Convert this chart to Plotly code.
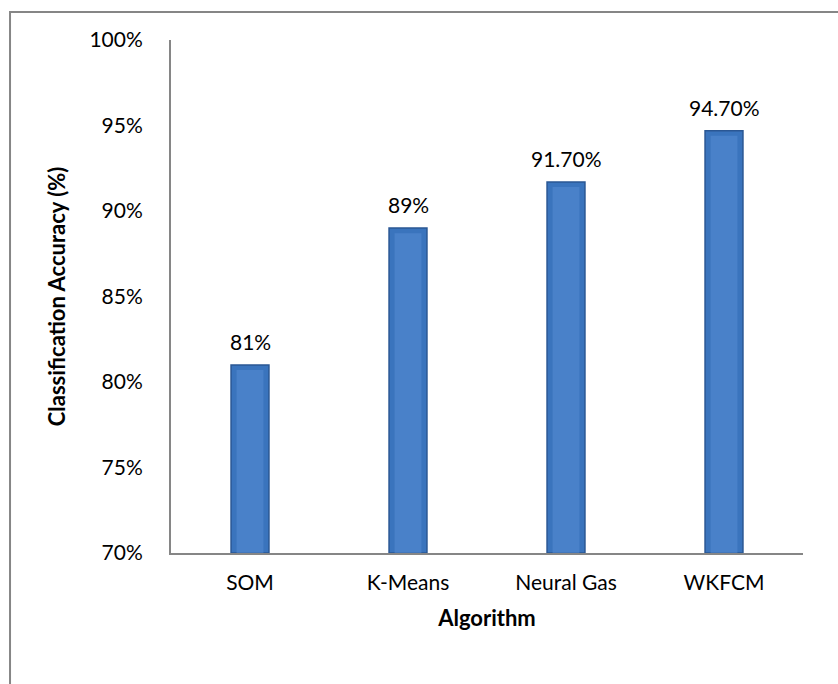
import plotly.graph_objects as go

algorithms = ["SOM", "K-Means", "Neural Gas", "WKFCM"]
accuracy = [81.0, 89.0, 91.7, 94.7]
value_labels = ["81%", "89%", "91.70%", "94.70%"]
y_ticks = [70, 75, 80, 85, 90, 95, 100]
y_tick_text = ["70%", "75%", "80%", "85%", "90%", "95%", "100%"]

FONT = "Lato, 'Open Sans', sans-serif"

fig = go.Figure()

# main bars
fig.add_trace(go.Bar(
    x=algorithms,
    y=[v - 70 for v in accuracy],
    base=70,
    width=0.24,
    marker=dict(color="#3A74BD", line=dict(color="#2A5794", width=1.5)),
    hoverinfo="skip",
))

# lighter centre band for the bevelled look
fig.add_trace(go.Bar(
    x=algorithms,
    y=[v - 70 - 0.3 for v in accuracy],
    base=70,
    width=0.17,
    marker=dict(color="rgba(85,140,212,0.55)", line=dict(width=0)),
    hoverinfo="skip",
))

# value labels above each bar
annotations = [
    dict(x=a, y=v, text=t, xref="x", yref="y", showarrow=False,
         yanchor="bottom", yshift=9,
         font=dict(family=FONT, size=21, color="#000000"))
    for a, v, t in zip(algorithms, accuracy, value_labels)
]

fig.update_layout(
    width=838,
    height=684,
    margin=dict(l=171, r=35, t=40, b=131),
    paper_bgcolor="white",
    plot_bgcolor="white",
    showlegend=False,
    barmode="overlay",
    font=dict(family=FONT, size=21, color="#000000"),
    annotations=annotations,
    xaxis=dict(
        showline=True, linecolor="#868686", linewidth=2,
        ticks="", showgrid=False,
        tickfont=dict(family=FONT, size=21),
        ticklabelstandoff=10,
        title=dict(text="<b>Algorithm</b>", font=dict(family=FONT, size=22), standoff=17),
    ),
    yaxis=dict(
        range=[70, 100],
        tickvals=y_ticks, ticktext=y_tick_text,
        showline=True, linecolor="#868686", linewidth=2,
        ticks="", showgrid=False, zeroline=False,
        tickfont=dict(family=FONT, size=21),
        ticklabelstandoff=22,
        title=dict(text="<b>Classification Accuracy (%)</b>", font=dict(family=FONT, size=22), standoff=18),
    ),
    shapes=[dict(
        type="rect", xref="paper", yref="paper",
        x0=-0.2547, y0=-1, x1=2, y1=1.0546,
        line=dict(color="#868686", width=2), fillcolor="rgba(0,0,0,0)",
        layer="below",
    )],
)

fig.write_html("out.html")
